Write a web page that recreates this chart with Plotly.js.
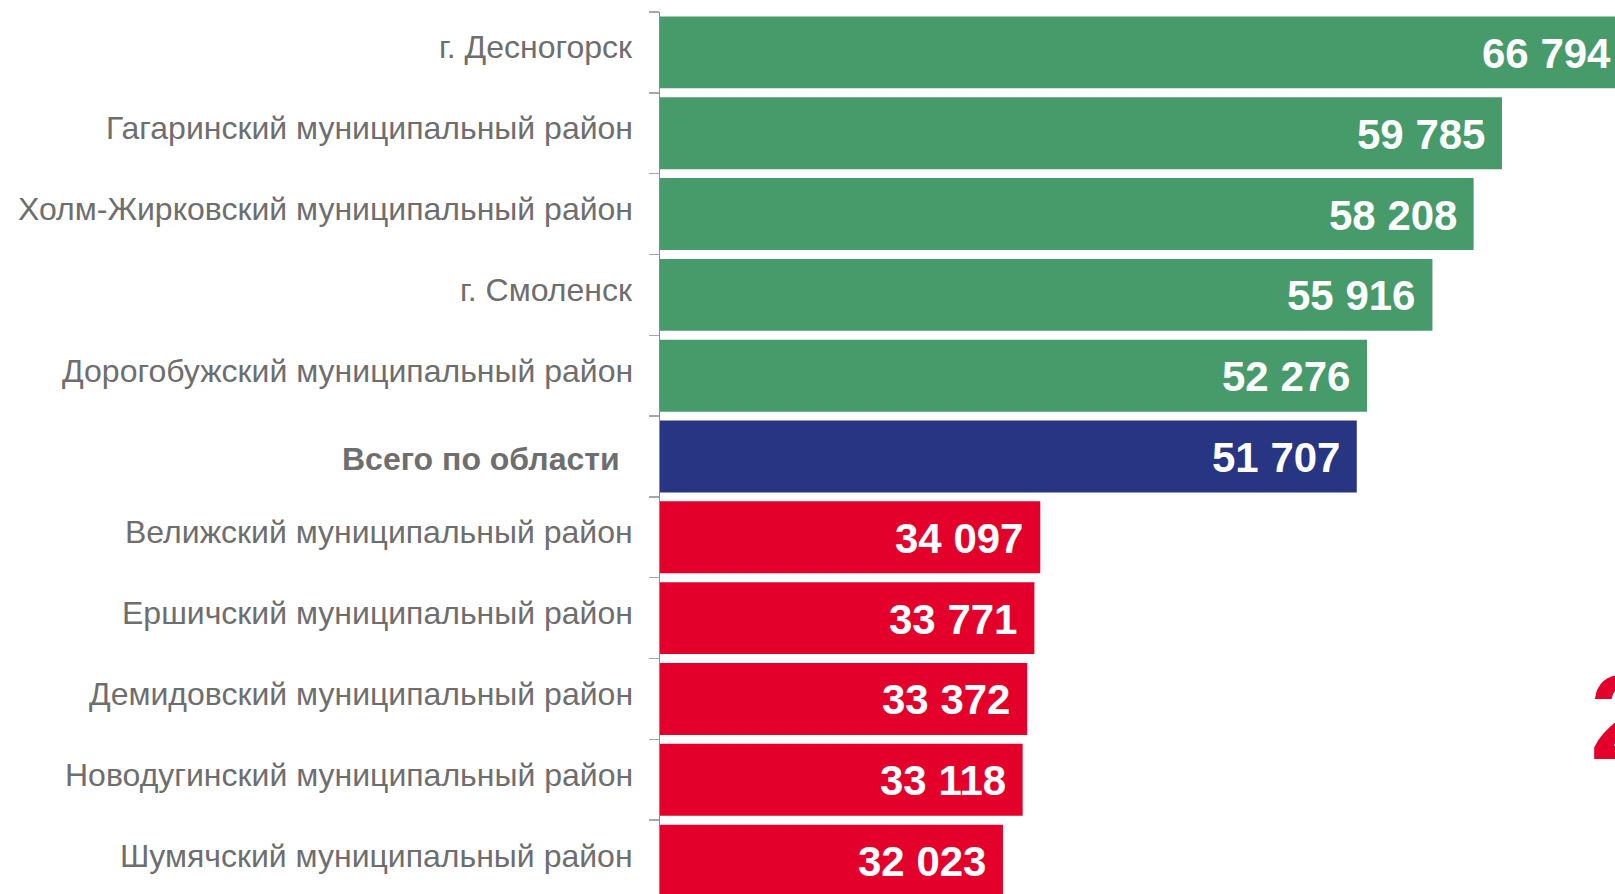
<!DOCTYPE html>
<html>
<head>
<meta charset="utf-8">
<script src="https://cdn.plot.ly/plotly-3.0.1.min.js"></script>
<style>
  html, body { margin: 0; padding: 0; overflow: hidden; background: #ffffff; }
  #chart { width: 1660px; height: 902px; }
</style>
</head>
<body>
<div id="chart"></div>
<script>
// ---- data ----
const categories = [
  "г. Десногорск",
  "Гагаринский муниципальный район",
  "Холм-Жирковский муниципальный район",
  "г. Смоленск",
  "Дорогобужский муниципальный район",
  "Всего по области",
  "Велижский муниципальный район",
  "Ершичский муниципальный район",
  "Демидовский муниципальный район",
  "Новодугинский муниципальный район",
  "Шумячский муниципальный район"
];
const values = [66794, 59785, 58208, 55916, 52276, 51707, 34097, 33771, 33372, 33118, 32023];
const groups = ["top", "top", "top", "top", "top", "total", "bottom", "bottom", "bottom", "bottom", "bottom"];
const totalLabel = "Всего по области";
const sideMark = "2";

// ---- styles ----
const groupColors = { top: "#479B6A", total: "#283583", bottom: "#E3002B" };
const labelFont = "Liberation Sans, Arial, sans-serif";

function fmt(v) {
  return String(v).replace(/\B(?=(\d{3})+(?!\d))/g, " ");
}

const trace = {
  type: "bar",
  orientation: "h",
  y: categories,
  x: values,
  marker: { color: groups.map(g => groupColors[g]), line: { width: 0 } },
  hoverinfo: "skip",
  cliponaxis: true
};

const annotations = [];
// value labels inside bar ends
categories.forEach((c, i) => {
  annotations.push({
    x: values[i], y: c, xref: "x", yref: "y",
    text: fmt(values[i]),
    showarrow: false, xanchor: "right", yanchor: "middle",
    xshift: -15, yshift: -1,
    font: { family: labelFont, size: 42, color: "#ffffff", weight: "bold" }
  });
});
// category labels
categories.forEach((c, i) => {
  const isTotal = c === totalLabel;
  annotations.push({
    x: 0, y: c, xref: "paper", yref: "y",
    text: c,
    showarrow: false, xanchor: "right", yanchor: "middle",
    xshift: isTotal ? -38 : -25,
    yshift: isTotal ? -2 : 5,
    font: { family: labelFont, size: 32, color: "#6E6E6E", weight: isTotal ? "bold" : "normal" }
  });
});
// clipped big red mark at the right edge
annotations.push({
  x: 0.9275, y: 0.207, xref: "paper", yref: "paper",
  text: sideMark, showarrow: false, xanchor: "left", yanchor: "middle",
  font: { family: labelFont, size: 121, color: "#E3002B", weight: "bold" }
});

const layout = {
  width: 1660,
  height: 902,
  margin: { l: 660, r: 0, t: 12, b: 1, pad: 0 },
  paper_bgcolor: "#ffffff",
  plot_bgcolor: "#ffffff",
  showlegend: false,
  bargap: 0.11,
  xaxis: {
    range: [12941, 68577],
    visible: false,
    fixedrange: true
  },
  yaxis: {
    type: "category",
    autorange: "reversed",
    showticklabels: false,
    showgrid: false,
    zeroline: false,
    showline: true,
    linecolor: "#8C8C8C",
    linewidth: 1.5,
    ticks: "outside",
    tickson: "boundaries",
    ticklen: 10,
    tickcolor: "#A6A6A6",
    tickwidth: 1.5,
    fixedrange: true
  },
  annotations: annotations
};

Plotly.newPlot("chart", [trace], layout, { displayModeBar: false, staticPlot: true });
</script>
</body>
</html>
